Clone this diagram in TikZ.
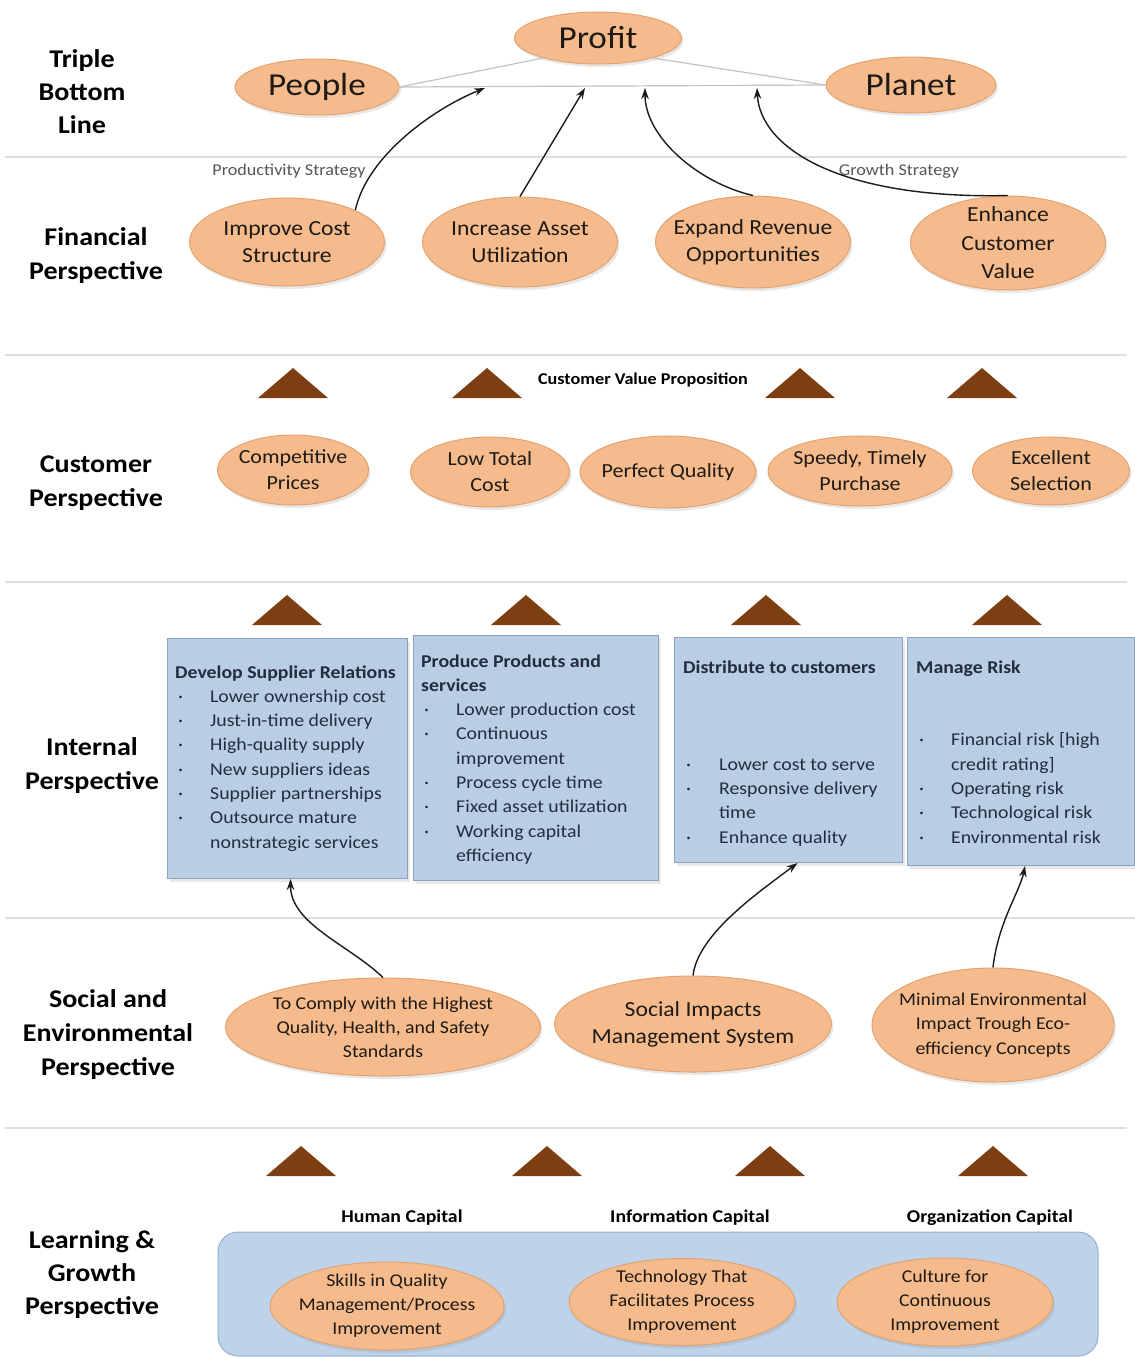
\documentclass[tikz,border=0pt]{standalone}
\usepackage{fontspec}
\setmainfont{Carlito}[FakeStretch=1.1]
\usetikzlibrary{shapes.geometric,arrows.meta,shadows}

\definecolor{ovalfill}{RGB}{246,187,140}
\definecolor{ovaldraw}{RGB}{226,163,112}
\definecolor{boxfill}{RGB}{185,205,229}
\definecolor{boxdraw}{RGB}{140,162,190}
\definecolor{basefill}{RGB}{190,210,234}
\definecolor{basedraw}{RGB}{150,175,205}
\definecolor{wedge}{RGB}{125,62,18}
\definecolor{rulegray}{RGB}{222,222,222}
\definecolor{tbline}{RGB}{195,195,195}
\definecolor{ink}{RGB}{30,26,22}
\definecolor{boxink}{RGB}{35,45,62}
\definecolor{softink}{RGB}{85,85,85}

\tikzset{
  oval/.style={ellipse, fill=ovalfill, draw=ovaldraw, line width=1pt, inner sep=0pt,
    drop shadow={opacity=0.18, shadow xshift=2pt, shadow yshift=-3pt}},
  ovaltext/.style={align=center, text=ink, inner sep=0pt},
  fA/.style={font=\fontsize{21.5}{27}\selectfont},
  fB/.style={font=\fontsize{20}{26}\selectfont},
  fC/.style={font=\fontsize{18}{24}\selectfont},
  fD/.style={font=\fontsize{18}{24}\selectfont},
  fTop/.style={font=\fontsize{32}{36}\selectfont},
  rowlabel/.style={align=center, text=black, inner sep=0pt, font=\bfseries\fontsize{25.5}{34}\selectfont},
  infobox/.style={rectangle, anchor=north west, fill=boxfill, draw=boxdraw, line width=1pt, inner sep=0pt,
    drop shadow={opacity=0.18, shadow xshift=2pt, shadow yshift=-3pt}},
  boxtext/.style={anchor=base west, inner sep=0pt, text=boxink, font=\fontsize{18}{24.3}\selectfont},
  sublabel/.style={inner sep=0pt, text=softink, font=\fontsize{16.5}{19}\selectfont},
  caplabel/.style={inner sep=0pt, text=black, font=\bfseries\fontsize{18}{21}\selectfont},
  sepline/.style={draw=rulegray, line width=2.5pt},
  tbl/.style={draw=tbline, line width=1.2pt},
  flow/.style={draw=ink, line width=1.4pt, -{Stealth[length=11pt,width=7.5pt]}},
  wedgeup/.pic={\fill[wedge] (-35,15) -- (35,15) -- (0,-15) -- cycle;}
}

\begin{document}
\begin{tikzpicture}[x=1pt, y=-1pt]
\useasboundingbox[fill=white] (0,0) rectangle (1135,1358);

% ---------- horizontal separators ----------
\draw[sepline] (5,157) -- (1127,157);
\draw[sepline] (5,355) -- (1127,355);
\draw[sepline] (5,582) -- (1127,582);
\draw[sepline] (5,918) -- (1135,918);
\draw[sepline] (5,1128) -- (1127,1128);

% ---------- row labels ----------
\node[rowlabel] (lab-tbl) at (82,92) {Triple\\[-1pt]Bottom\\[-1pt]Line};
\node[rowlabel] (lab-fin) at (96,256) {Financial\\Perspective};
\node[rowlabel] (lab-cus) at (96,483) {Customer\\Perspective};
\node[rowlabel] (lab-int) at (92,766) {Internal\\Perspective};
\node[rowlabel] (lab-soc) at (108,1035) {Social and\\Environmental\\Perspective};
\node[rowlabel] (lab-lg) at (92,1275) {Learning \&\\[-1pt]Growth\\[-1pt]Perspective};

% ---------- triple bottom line ----------
\node[oval, minimum width=167, minimum height=52] (profit) at (598,38) {};
\node[ovaltext, fTop] (profit-t) at (profit) {Profit};
\node[oval, minimum width=164, minimum height=56] (people) at (317,87) {};
\node[ovaltext, fTop] (people-t) at (people) {People};
\node[oval, minimum width=170, minimum height=56] (planet) at (911,85) {};
\node[ovaltext, fTop] (planet-t) at (planet) {Planet};

\draw[tbl] (people.east) -- (profit.200);
\draw[tbl] (profit.-20) -- (planet.west);
\draw[tbl] (people.east) -- (planet.west);

\coordinate (t1) at (485,88);
\coordinate (t2) at (585,88);
\coordinate (t3) at (645,88);
\coordinate (t4) at (757,88);

% ---------- financial perspective ----------
\node[sublabel] (prodstrat) at (289,171) {Productivity Strategy};
\node[sublabel] (growstrat) at (899,171) {Growth Strategy};

\node[oval, minimum width=195, minimum height=88] (icost) at (287,242) {};
\node[ovaltext, fA] (icost-t) at (icost) {Improve Cost\\Structure};
\node[oval, minimum width=195, minimum height=90] (iasset) at (520,242) {};
\node[ovaltext, fA] (iasset-t) at (iasset) {Increase Asset\\Utilization};
\node[oval, minimum width=195, minimum height=92] (erev) at (753,242) {};
\node[ovaltext, fA] (erev-t) at (erev) {Expand Revenue\\Opportunities};
\node[oval, minimum width=195, minimum height=94] (ecust) at (1008,243) {};
\node[ovaltext, fA, font=\fontsize{21.5}{28.5}\selectfont] (ecust-t) at (ecust) {Enhance\\Customer\\Value};

\draw[flow] (icost.25) .. controls +(12,-55) and +(-50,20) .. (t1);
\draw[flow] (iasset.north) -- (t2);
\draw[flow] (erev.north) .. controls +(-53,-12) and +(0,50) .. (t3);
\draw[flow] (ecust.north) .. controls +(-168,4) and +(3,60) .. (t4);

% ---------- customer perspective ----------
\pic at (293,383) {wedgeup};
\pic at (487,383) {wedgeup};
\pic at (800,383) {wedgeup};
\pic at (982,383) {wedgeup};
\node[caplabel, font=\bfseries\fontsize{16.5}{19}\selectfont] (cvp) at (643,380) {Customer Value Proposition};

\node[oval, minimum width=151, minimum height=70] (cprice) at (293,470) {};
\node[ovaltext, fB] (cprice-t) at (cprice) {Competitive\\Prices};
\node[oval, minimum width=159, minimum height=70] (lowcost) at (490,472) {};
\node[ovaltext, fB] (lowcost-t) at (lowcost) {Low Total\\Cost};
\node[oval, minimum width=176, minimum height=72] (pquality) at (668,472) {};
\node[ovaltext, fB] (pquality-t) at (pquality) {Perfect Quality};
\node[oval, minimum width=184, minimum height=70] (speedy) at (860,471) {};
\node[ovaltext, fB] (speedy-t) at (speedy) {Speedy, Timely\\Purchase};
\node[oval, minimum width=157, minimum height=68] (select) at (1051,471) {};
\node[ovaltext, fB] (select-t) at (select) {Excellent\\Selection};

% ---------- internal perspective ----------
\pic at (287,610) {wedgeup};
\pic at (526,610) {wedgeup};
\pic at (766,610) {wedgeup};
\pic at (1007,610) {wedgeup};

\node[infobox, minimum width=240, minimum height=240] (b1) at (167,638) {};
\node[infobox, minimum width=245, minimum height=245] (b2) at (413,635) {};
\node[infobox, minimum width=228, minimum height=225] (b3) at (674,637) {};
\node[infobox, minimum width=227, minimum height=228] (b4) at (907,637) {};

\node[boxtext] (b1-t) at (175,678) {\begin{tabular}[t]{@{}p{35pt}@{}l@{}}
\multicolumn{2}{@{}l@{}}{\textbf{Develop Supplier Relations}}\\
\hspace*{3pt}·& Lower ownership cost\\
\hspace*{3pt}·& Just-in-time delivery\\
\hspace*{3pt}·& High-quality supply\\
\hspace*{3pt}·& New suppliers ideas\\
\hspace*{3pt}·& Supplier partnerships\\
\hspace*{3pt}·& Outsource mature\\
 & nonstrategic services
\end{tabular}};

\node[boxtext] (b2-t) at (421,667) {\begin{tabular}[t]{@{}p{35pt}@{}l@{}}
\multicolumn{2}{@{}l@{}}{\textbf{Produce Products and}}\\
\multicolumn{2}{@{}l@{}}{\textbf{services}}\\
\hspace*{3pt}·& Lower production cost\\
\hspace*{3pt}·& Continuous\\
 & improvement\\
\hspace*{3pt}·& Process cycle time\\
\hspace*{3pt}·& Fixed asset utilization\\
\hspace*{3pt}·& Working capital\\
 & efficiency
\end{tabular}};

\node[boxtext] (b3-t) at (683,673) {\begin{tabular}[t]{@{}p{36pt}@{}l@{}}
\multicolumn{2}{@{}l@{}}{\textbf{Distribute to customers}}\\
 & \\
 & \\
 & \\
\hspace*{3pt}·& Lower cost to serve\\
\hspace*{3pt}·& Responsive delivery\\
 & time\\
\hspace*{3pt}·& Enhance quality
\end{tabular}};

\node[boxtext] (b4-t) at (916,673) {\begin{tabular}[t]{@{}p{35pt}@{}l@{}}
\multicolumn{2}{@{}l@{}}{\textbf{Manage Risk}}\\
 & \\
 & \\
\hspace*{3pt}·& Financial risk [high\\
 & credit rating]\\
\hspace*{3pt}·& Operating risk\\
\hspace*{3pt}·& Technological risk\\
\hspace*{3pt}·& Environmental risk
\end{tabular}};

% ---------- social and environmental perspective ----------
\node[oval, minimum width=315, minimum height=98] (comply) at (383,1027) {};
\node[ovaltext, fC] (comply-t) at (comply) {To Comply with the Highest\\Quality, Health, and Safety\\Standards};
\node[oval, minimum width=277, minimum height=96] (sims) at (693,1024) {};
\node[ovaltext, fA] (sims-t) at (sims) {Social Impacts\\Management System};
\node[oval, minimum width=242, minimum height=114] (minenv) at (993,1025) {};
\node[ovaltext, fC, font=\fontsize{18}{24.5}\selectfont] (minenv-t) at (minenv) {Minimal Environmental\\Impact Trough Eco-\\efficiency Concepts};

\coordinate (b1in) at ([xshift=3pt]b1.south);
\coordinate (b3in) at ([xshift=9pt]b3.south);
\coordinate (b4in) at ([xshift=4pt]b4.south);

\draw[flow] (comply.north) .. controls +(-33,-32) and +(0,45) .. (b1in);
\draw[flow] (sims.north) .. controls +(5,-42) and +(-37,28) .. (b3in);
\draw[flow] (minenv.north) .. controls +(5,-45) and +(-5,25) .. (b4in);

% ---------- learning & growth perspective ----------
\pic at (301,1161) {wedgeup};
\pic at (547,1161) {wedgeup};
\pic at (770,1161) {wedgeup};
\pic at (993,1161) {wedgeup};

\node[caplabel] (hcap) at (402,1218) {Human Capital};
\node[caplabel] (icap) at (690,1218) {Information Capital};
\node[caplabel] (ocap) at (990,1218) {Organization Capital};

\node[rectangle, rounded corners=20pt, fill=basefill, draw=basedraw, line width=1pt,
      minimum width=880, minimum height=124, inner sep=0pt] (base) at (658,1294) {};

\node[oval, minimum width=234, minimum height=88] (skills) at (387,1306) {};
\node[ovaltext, fD] (skills-t) at (skills) {Skills in Quality\\Management/Process\\Improvement};
\node[oval, minimum width=226, minimum height=87] (tech) at (682,1302) {};
\node[ovaltext, fD] (tech-t) at (tech) {Technology That\\Facilitates Process\\Improvement};
\node[oval, minimum width=216, minimum height=88] (culture) at (945,1302) {};
\node[ovaltext, fD] (culture-t) at (culture) {Culture for\\Continuous\\Improvement};
\end{tikzpicture}
\end{document}
